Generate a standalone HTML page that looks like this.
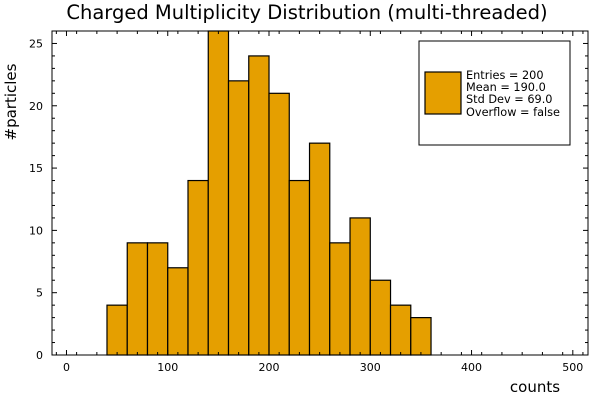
<!DOCTYPE html>
<html><head><meta charset="utf-8"><style>
body{margin:0;background:#fff}
svg text{font-family:"DejaVu Sans","Liberation Sans",sans-serif}
</style></head><body>
<svg width="600" height="400" xmlns="http://www.w3.org/2000/svg">
<rect width="600" height="400" fill="#fff"/>
<text x="307" y="19" font-size="19.5" text-anchor="middle">Charged Multiplicity Distribution (multi-threaded)</text>
<g id="bars"></g>
<g id="axes"></g>
<rect x="52" y="31" width="536" height="324" fill="none" stroke="#000" stroke-width="1"/>
<text x="16" y="102" font-size="15" text-anchor="middle" transform="rotate(-90 16 102)">#particles</text>
<text x="535" y="392" font-size="15" text-anchor="middle">counts</text>
<g>
<rect x="419" y="41" width="151" height="104" fill="#fff" stroke="#000" stroke-width="1"/>
<rect x="425" y="72" width="36" height="42" fill="#e59f00" stroke="#000" stroke-width="1.2"/>
<text x="466" y="79" font-size="11.3">Entries = 200</text>
<text x="466" y="91" font-size="11.3">Mean = 190.0</text>
<text x="466" y="103" font-size="11.3">Std Dev = 69.0</text>
<text x="466" y="116" font-size="11.3">Overflow = false</text>
</g>
</svg>
<script>
const binEdges=[40,60,80,100,120,140,160,180,200,220,240,260,280,300,320,340,360];
const counts=[4,9,9,7,14,26,22,24,21,14,17,9,11,6,4,3];
const xTicks=[0,100,200,300,400,500];
const yTicks=[0,5,10,15,20,25];
const NS="http://www.w3.org/2000/svg";
const L=52,R=588,T=31,B=355,xMin=-14.3,xMax=515,yMin=0,yMax=26;
const sx=v=>L+(v-xMin)/(xMax-xMin)*(R-L);
const sy=v=>B-(v-yMin)/(yMax-yMin)*(B-T);
const bars=document.getElementById('bars'),axes=document.getElementById('axes');
function mk(t,a,p){const e=document.createElementNS(NS,t);for(const k in a)e.setAttribute(k,a[k]);p.appendChild(e);return e;}
counts.forEach((c,i)=>{
 const x0=sx(binEdges[i]),x1=sx(binEdges[i+1]),y=sy(c);
 const r=mk('rect',{x:x0,y:y,width:x1-x0,height:B-y,fill:'#e59f00',stroke:'#000','stroke-width':1.2},bars);
 
 
});
xTicks.forEach(v=>{
 const x=sx(v);
 mk('line',{x1:x,x2:x,y1:B,y2:B-5,stroke:'#000'},axes);
 mk('line',{x1:x,x2:x,y1:T,y2:T+5,stroke:'#000'},axes);
 const t=mk('text',{x:x,y:B+16,'font-size':11,'text-anchor':'middle'},axes);t.textContent=v;
 
 
});
for(let v=-10;v<=510;v+=20){if(v%100===0)continue;const x=sx(v);
 mk('line',{x1:x,x2:x,y1:B,y2:B-3,stroke:'#000'},axes);
 mk('line',{x1:x,x2:x,y1:T,y2:T+3,stroke:'#000'},axes);}
yTicks.forEach(v=>{
 const y=sy(v);
 mk('line',{x1:L,x2:L+5,y1:y,y2:y,stroke:'#000'},axes);
 mk('line',{x1:R,x2:R-5,y1:y,y2:y,stroke:'#000'},axes);
 const t=mk('text',{x:L-9,y:y+4,'font-size':11,'text-anchor':'end'},axes);t.textContent=v;
 
 
});
for(let v=1;v<26;v++){if(v%5===0)continue;const y=sy(v);
 mk('line',{x1:L,x2:L+3,y1:y,y2:y,stroke:'#000'},axes);
 mk('line',{x1:R,x2:R-3,y1:y,y2:y,stroke:'#000'},axes);}
</script>
</body></html>
